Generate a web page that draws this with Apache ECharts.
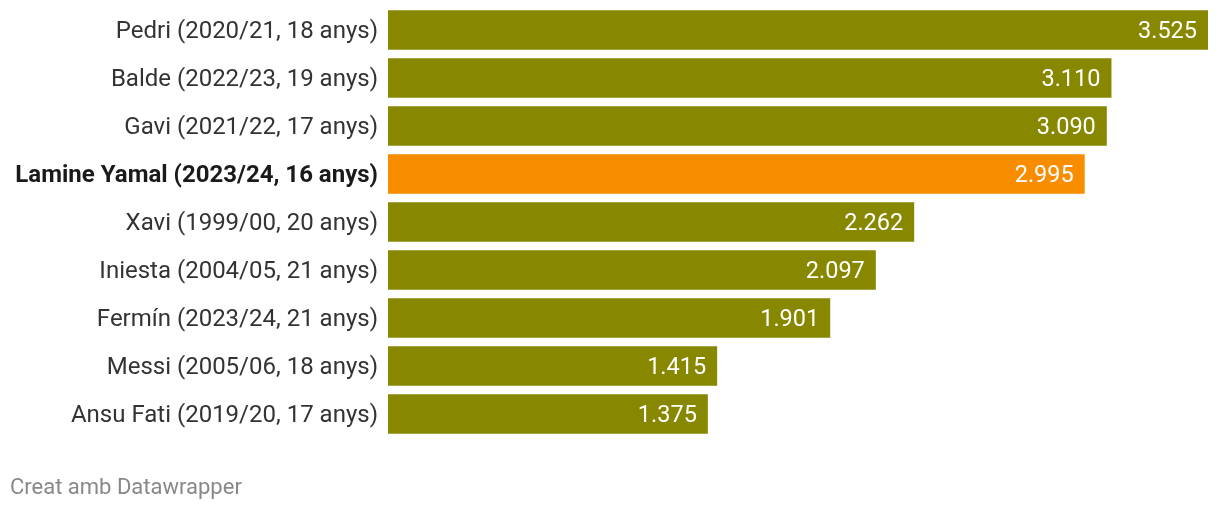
<!DOCTYPE html>
<html><head><meta charset="utf-8">
<script src="https://cdn.jsdelivr.net/npm/echarts@6/dist/echarts.min.js"></script>
<style>html,body{margin:0;padding:0;background:#fff}#c{width:1220px;height:510px}</style>
</head><body><div id="c"></div>
<script>
const categories = [
  "Pedri (2020/21, 18 anys)",
  "Balde (2022/23, 19 anys)",
  "Gavi (2021/22, 17 anys)",
  "Lamine Yamal (2023/24, 16 anys)",
  "Xavi (1999/00, 20 anys)",
  "Iniesta (2004/05, 21 anys)",
  "Fermín (2023/24, 21 anys)",
  "Messi (2005/06, 18 anys)",
  "Ansu Fati (2019/20, 17 anys)"
];
const values = [3525, 3110, 3090, 2995, 2262, 2097, 1901, 1415, 1375];
const highlight = "Lamine Yamal (2023/24, 16 anys)";

function fmt(v){ return String(v).replace(/\B(?=(\d{3})+(?!\d))/g, "."); }

const chart = echarts.init(document.getElementById('c'), null, {renderer:'canvas'});
chart.setOption({
  animation:false,
  grid:{left:388, top:6, width:820, height:432, containLabel:false},
  xAxis:{type:'value', min:0, max:3525, show:false},
  yAxis:{type:'category', inverse:true, data:categories,
    axisLine:{show:false}, axisTick:{show:false}, splitLine:{show:false},
    axisLabel:{margin:10, fontFamily:'Roboto', fontSize:24, color:'#333', padding:[4,0,0,0],
      formatter:(v)=> v===highlight ? '{b|'+v+'}' : v,
      rich:{b:{fontFamily:'Roboto', fontSize:24, fontWeight:'bold', color:'#1a1a1a'}}}
  },
  series:[{
    type:'bar', barWidth:39.5,
    data: values.map((v,i)=>({value:v, itemStyle:{color: categories[i]===highlight ? '#f98d00' : '#888800'}})),
    label:{show:true, position:'insideRight', distance:11, color:'#fff', offset:[0,2],
      fontFamily:'Roboto', fontSize:23.5, formatter:(p)=>fmt(p.value)}
  }],
  graphic:[{type:'text', left:10, top:477,
    style:{text:'Creat amb Datawrapper', fontFamily:'Roboto', fontSize:22, fill:'#888'}}]
});
</script></body></html>
